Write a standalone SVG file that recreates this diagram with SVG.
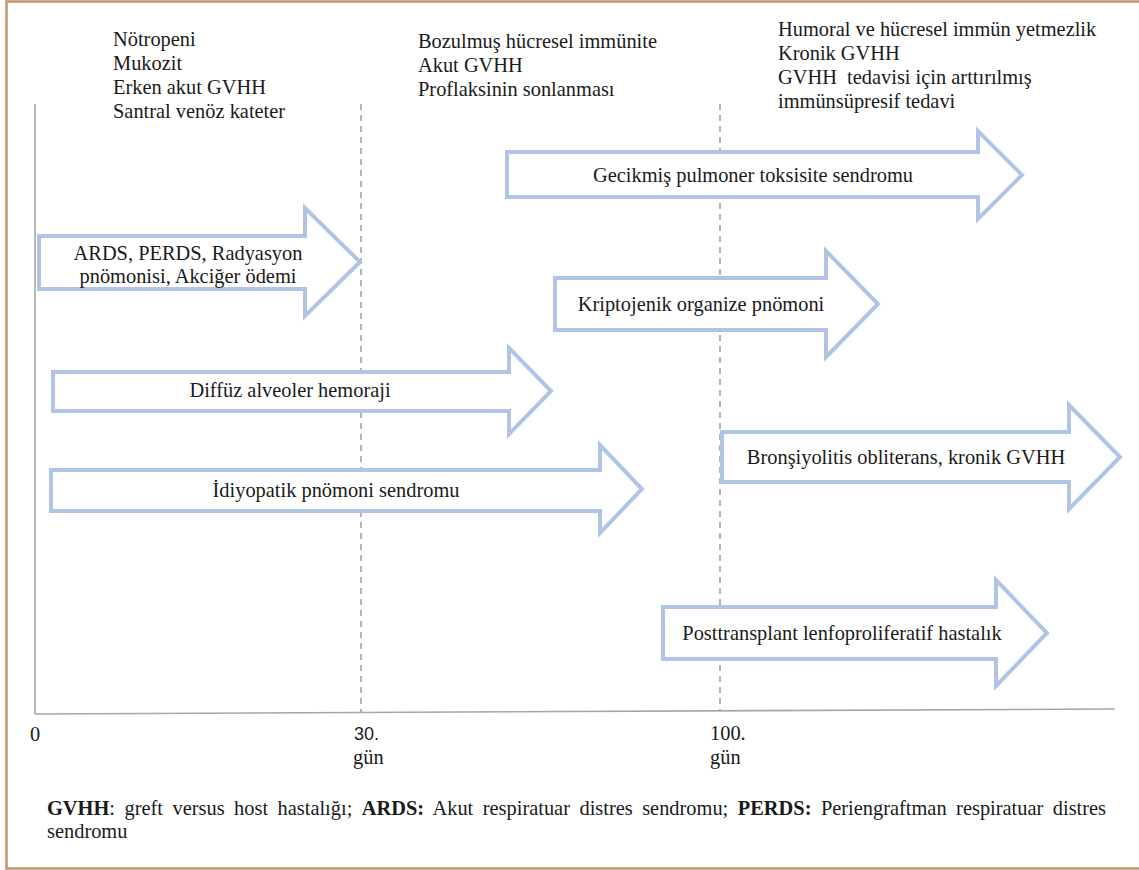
<svg xmlns="http://www.w3.org/2000/svg" width="1139" height="870" viewBox="0 0 1139 870">
<style>
.t{font-family:"Liberation Serif","Times New Roman",serif;font-size:20.4px;fill:#1a1a1a}
.b{font-weight:bold}
.s{font-family:"Liberation Sans",Arial,sans-serif;font-size:18px;fill:#1a1a1a}
.arr{fill:#ffffff;stroke:#b0c5e6;stroke-width:4;stroke-linejoin:miter}
.ax{stroke:#a6a6a6;stroke-width:1.6;fill:none}
.dash{stroke:#9a9a9a;stroke-width:1.5;stroke-dasharray:6 5;fill:none}
</style>
<rect x="0" y="0" width="1139" height="870" fill="#ffffff"/>
<rect x="6.5" y="1.5" width="1140" height="867" fill="none" stroke="#c29872" stroke-width="2.6"/>

<g id="axes">
<line class="ax" x1="35" y1="104" x2="35" y2="714"/>
<line class="ax" x1="35" y1="714" x2="1115" y2="709"/>
<line class="dash" x1="361" y1="104" x2="361" y2="712"/>
<line class="dash" x1="720" y1="104" x2="720" y2="711"/>
</g>

<g id="header-early">
<text class="t" x="113" y="46">Nötropeni</text>
<text class="t" x="113" y="70">Mukozit</text>
<text class="t" x="113" y="94">Erken akut GVHH</text>
<text class="t" x="113" y="118">Santral venöz kateter</text>
</g>
<g id="header-mid">
<text class="t" x="418" y="48">Bozulmuş hücresel immünite</text>
<text class="t" x="418" y="72">Akut GVHH</text>
<text class="t" x="418" y="96">Proflaksinin sonlanması</text>
</g>
<g id="header-late">
<text class="t" x="778" y="36">Humoral ve hücresel immün yetmezlik</text>
<text class="t" x="778" y="60">Kronik GVHH</text>
<text class="t" x="778" y="84" xml:space="preserve">GVHH  tedavisi için arttırılmış</text>
<text class="t" x="778" y="108">immünsüpresif tedavi</text>
</g>

<g id="arrow-ards">
<path class="arr" d="M39,236 H305 V208 L360,262 L305,316 V289 H39 Z"/>
<text class="t" x="188" y="260" text-anchor="middle">ARDS, PERDS, Radyasyon</text>
<text class="t" x="188" y="283" text-anchor="middle">pnömonisi, Akciğer ödemi</text>
</g>
<g id="arrow-gecikmis">
<path class="arr" d="M507,152 H978 V131 L1022,175 L978,219 V197 H507 Z"/>
<text class="t" x="753" y="182" text-anchor="middle">Gecikmiş pulmoner toksisite sendromu</text>
</g>
<g id="arrow-kriptojenik">
<path class="arr" d="M555,278 H826 V251 L878,304 L826,357 V330 H555 Z"/>
<text class="t" x="701" y="311" text-anchor="middle">Kriptojenik organize pnömoni</text>
</g>
<g id="arrow-diffuz">
<path class="arr" d="M53,372 H509 V348 L551,391 L509,434 V411 H53 Z"/>
<text class="t" x="290" y="397" text-anchor="middle">Diffüz alveoler hemoraji</text>
</g>
<g id="arrow-idiyopatik">
<path class="arr" d="M51,470 H600 V445 L642,489 L600,533 V511 H51 Z"/>
<text class="t" x="336" y="497" text-anchor="middle">İdiyopatik pnömoni sendromu</text>
</g>
<g id="arrow-bronsiyolitis">
<path class="arr" d="M722,432 H1069 V405 L1120,457 L1069,509 V482 H722 Z"/>
<text class="t" x="906" y="464" text-anchor="middle">Bronşiyolitis obliterans, kronik GVHH</text>
</g>
<g id="arrow-ptld">
<path class="arr" d="M663,607 H996 V580 L1047,633 L996,686 V659 H663 Z"/>
<text class="t" x="842" y="640" text-anchor="middle">Posttransplant lenfoproliferatif hastalık</text>
</g>

<g id="axis-labels">
<text class="t" x="30" y="741">0</text>
<text class="s" x="354" y="740">30.</text>
<text class="t" x="353" y="764">gün</text>
<text class="t" x="710" y="740">100.</text>
<text class="t" x="710" y="764">gün</text>
</g>

<g id="footnote">
<text class="t" x="47" y="815" word-spacing="4.4"><tspan class="b">GVHH</tspan>: greft versus host hastalığı; <tspan class="b">ARDS:</tspan> Akut respiratuar distres sendromu; <tspan class="b">PERDS:</tspan> Periengraftman respiratuar distres</text>
<text class="t" x="47" y="838">sendromu</text>
</g>
</svg>
